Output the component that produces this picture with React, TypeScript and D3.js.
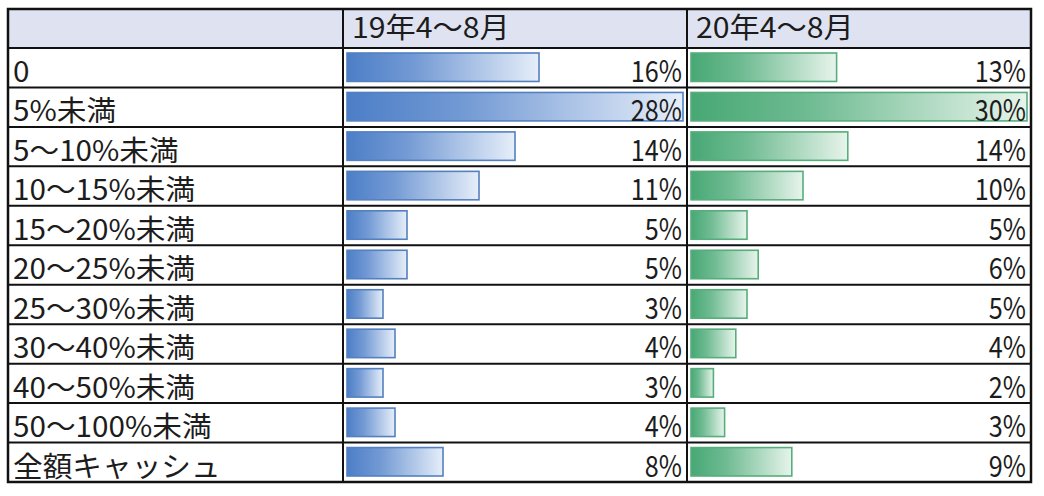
import React from 'react';
import * as d3 from 'd3';

// 行ラベル
const categories = [
  '0',
  '5%未満',
  '5〜10%未満',
  '10〜15%未満',
  '15〜20%未満',
  '20〜25%未満',
  '25〜30%未満',
  '30〜40%未満',
  '40〜50%未満',
  '50〜100%未満',
  '全額キャッシュ',
];

const seriesNames = ['19年4〜8月', '20年4〜8月'];

// 各期間の割合 (%)
const values2019 = [16, 28, 14, 11, 5, 5, 3, 4, 3, 4, 8];
const values2020 = [13, 30, 14, 10, 5, 6, 5, 4, 2, 3, 9];

const W = 1044;
const H = 496;
const left = 8;
const right = 1031;
const top = 9;
const headBottom = 48;
const bottom = 482;
const colEdges = [left, 343, 687, right];

const FONT = '"Noto Sans CJK JP", "Noto Sans", sans-serif';

const palettes = [
  { id: 'gBlue', from: '#4c7ec7', to: '#e6eef9', stroke: '#5480c0' },
  { id: 'gGreen', from: '#47a874', to: '#e7f4eb', stroke: '#57ad7c' },
];

// 元画像は横にやや引き伸ばされている
const stretch = (x: number, y: number, sx: number, sy: number) =>
  `translate(${x},${y}) scale(${sx},${sy})`;

const App: React.FC = () => {
  const y = d3.scaleBand<string>().domain(categories).range([headBottom, bottom]);
  const series = [values2019, values2020];

  return (
    <svg width={W} height={H} style={{ display: 'block', position: 'absolute', left: 0, top: 0 }}>
      <defs>
        {palettes.map(p => (
          <linearGradient key={p.id} id={p.id} x1="0" x2="1" y1="0" y2="0">
            <stop offset="0" stopColor={p.from} />
            <stop offset="0.35" stopColor={d3.interpolateRgb(p.from, p.to)(0.25)} />
            <stop offset="1" stopColor={p.to} />
          </linearGradient>
        ))}
      </defs>
      <rect x={0} y={0} width={W} height={H} fill="#fff" />
      {/* ヘッダー */}
      <rect x={left} y={top} width={right - left} height={headBottom - top} fill="#dfe3f1" />

      {series.map((vals, si) => {
        const x0 = colEdges[si + 1] + 4;
        const x1 = colEdges[si + 2] - 4;
        const x = d3.scaleLinear().domain([0, d3.max(vals)!]).range([x0, x1]);
        const p = palettes[si];
        return (
          <g key={si}>
            {vals.map((v, i) => (
              <rect
                key={i}
                x={x(0)}
                y={y(categories[i])! + 5}
                width={x(v) - x(0)}
                height={y.bandwidth() - 11}
                fill={`url(#${p.id})`}
                stroke={p.stroke}
                strokeWidth={1.6}
              />
            ))}
            {vals.map((v, i) => (
              <text
                key={'t' + i}
                transform={stretch(x1 - 1, y(categories[i])! + y.bandwidth() - 5.5, 0.9, 1.05)}
                textAnchor="end"
                fontFamily={FONT}
                fontSize={28}
                fill="#1c1c1c"
              >
                {v}%
              </text>
            ))}
            <text
              transform={stretch(colEdges[si + 1] + 9, 38, 1.08, 1)}
              fontFamily={FONT}
              fontSize={28}
              fill="#1c1c1c"
            >
              {seriesNames[si]}
            </text>
          </g>
        );
      })}

      {categories.map(c => (
        <text
          key={c}
          transform={stretch(13, y(c)! + y.bandwidth() - 5.5, 1.06, 1.02)}
          fontFamily={FONT}
          fontSize={28}
          fill="#1c1c1c"
        >
          {c}
        </text>
      ))}

      {/* 罫線 */}
      {[headBottom, ...categories.slice(1).map(c => y(c)!)].map((yy, i) => (
        <line key={'h' + i} x1={left} x2={right} y1={yy} y2={yy} stroke="#111" strokeWidth={2} />
      ))}
      {colEdges.slice(1, 3).map((xx, i) => (
        <line key={'v' + i} x1={xx} x2={xx} y1={top} y2={bottom} stroke="#111" strokeWidth={2} />
      ))}
      <rect x={left} y={top} width={right - left} height={bottom - top} fill="none" stroke="#111" strokeWidth={2.5} />
    </svg>
  );
};

export default App;
